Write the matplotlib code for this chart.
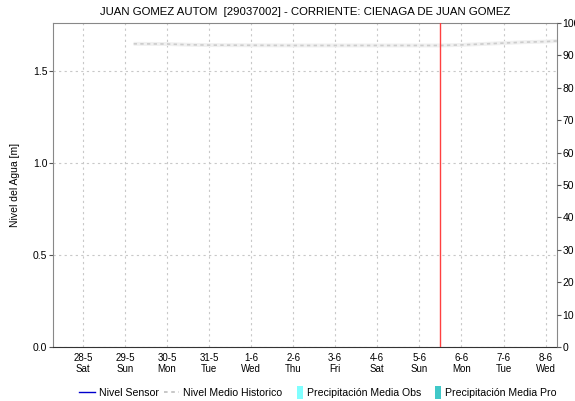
import datetime as dt
import matplotlib
matplotlib.use("Agg")
import matplotlib.pyplot as plt
import matplotlib.dates as mdates
from matplotlib.lines import Line2D
from matplotlib.patches import Patch, Rectangle
from matplotlib.legend_handler import HandlerPatch

plt.rcParams['font.family'] = ['Liberation Sans', 'DejaVu Sans']

# data
title = "JUAN GOMEZ AUTOM  [29037002] - CORRIENTE: CIENAGA DE JUAN GOMEZ"
hist_times = ["2022-05-29 05:00", "2022-05-30 00:00", "2022-05-30 12:00", "2022-05-31 00:00",
              "2022-06-01 00:00", "2022-06-02 00:00", "2022-06-03 00:00", "2022-06-04 00:00",
              "2022-06-05 00:00", "2022-06-05 12:00", "2022-06-06 00:00", "2022-06-06 12:00",
              "2022-06-07 00:00", "2022-06-07 12:00", "2022-06-08 00:00", "2022-06-08 07:00"]
hist_level = [1.647, 1.646, 1.642, 1.640, 1.639, 1.638, 1.638, 1.638,
              1.638, 1.638, 1.641, 1.646, 1.651, 1.656, 1.659, 1.663]
sensor_times = []
sensor_level = []
now_time = "2022-06-05 11:40"
x_start, x_end = "2022-05-27 07:00", "2022-06-08 06:30"

def parse(s):
    return dt.datetime.strptime(s, "%Y-%m-%d %H:%M")

class NarrowPatch(HandlerPatch):
    def create_artists(self, legend, orig_handle, xdescent, ydescent, width, height, fontsize, trans):
        r = Rectangle((width - 4.5 - xdescent, -ydescent - 2), 4.5, height + 4,
                      facecolor=orig_handle.get_facecolor(), edgecolor='none', transform=trans)
        return [r]

fig = plt.figure(figsize=(5.75, 4.01), dpi=100)
ax = fig.add_axes([0.0922, 0.1347, 0.8765, 0.8079])

ht = [parse(t) for t in hist_times]
ax.plot(ht, hist_level, color='#f0f0f0', lw=2.8, solid_capstyle='butt', zorder=2)
ax.plot(ht, hist_level, color='#cccccc', lw=1.2, dashes=(2, 2), zorder=3)
ax.plot([parse(t) for t in sensor_times], sensor_level, color='#0000cc', lw=1)
ax.axvline(parse(now_time), color='#ff4040', lw=1.0, zorder=4)

ax.set_xlim(parse(x_start), parse(x_end))
ax.set_ylim(0, 1.76)
ax.set_yticks([0, 0.5, 1.0, 1.5])
ax.set_yticklabels(['0.0', '0.5', '1.0', '1.5'])
ax.xaxis.set_major_locator(mdates.DayLocator())
ax.xaxis.set_major_formatter(mdates.DateFormatter('%-d-%-m\n%a'))
ax.grid(True, color='#c8c8c8', ls=(0, (2, 3)), lw=0.8)
ax.tick_params(axis='x', length=0, labelsize=7, pad=4)
ax.tick_params(axis='y', length=3, labelsize=7.5, pad=1, color='#555555')
for s in ['left', 'top', 'right']:
    ax.spines[s].set_color('#888888')
ax.spines['bottom'].set_linestyle((0, (1, 1)))
ax.spines['bottom'].set_color('#333333')
ax.set_ylabel('Nivel del Agua [m]', fontsize=7.5, labelpad=9)
ax.set_title(title, fontsize=8.2, pad=6)

ax2 = ax.twinx()
ax2.set_ylim(0, 100)
ax2.set_yticks(range(0, 101, 10))
ax2.tick_params(axis='y', length=3, labelsize=7.5, pad=1, color='#555555')
for s in ['left', 'top', 'right', 'bottom']:
    ax2.spines[s].set_visible(False)

handles = [Line2D([], [], color='#0000cc', lw=1),
           Line2D([], [], color='#c4c4c4', lw=1.3, dashes=(2, 2)),
           Patch(facecolor='#80ffff', edgecolor='none'),
           Patch(facecolor='#40c8c8', edgecolor='none')]
labels = ['Nivel Sensor', 'Nivel Medio Historico', 'Precipitación Media Obs', 'Precipitación Media Pro']
fig.legend(handles, labels, loc='center', bbox_to_anchor=(0.553, 0.02), ncol=4, frameon=False,
           fontsize=7.6, handlelength=1.5, handletextpad=0.35, columnspacing=0.45,
           handler_map={Patch: NarrowPatch()})

fig.savefig('out.png', dpi=100)
